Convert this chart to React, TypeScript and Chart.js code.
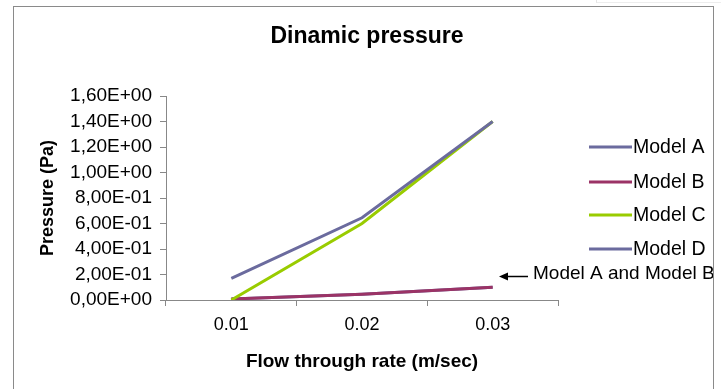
import React, { useEffect, useRef } from "react";
import { Chart, registerables } from "chart.js";

Chart.register(...registerables);

const categories = ["0.01", "0.02", "0.03"];
const modelA = [0.008, 0.045, 0.1];
const modelB = [0.008, 0.045, 0.1];
const modelC = [0.0, 0.6, 1.4];
const modelD = [0.17, 0.645, 1.4];
const seriesNames = ["Model A", "Model B", "Model C", "Model D"];
const seriesColors = ["#6b6b9e", "#9b3366", "#99cc00", "#6b6b9e"];
const chartTitle = "Dinamic pressure";
const xTitle = "Flow through rate (m/sec)";
const yTitle = "Pressure (Pa)";
const noteText = "Model A and Model B";

const FONT = "'Liberation Sans', Arial, sans-serif";

function fmtExp(v: number): string {
  const s = Number(v).toExponential(2);
  const [m, e] = s.split("e");
  const n = parseInt(e, 10);
  const sign = n < 0 ? "-" : "+";
  const abs = Math.abs(n).toString().padStart(2, "0");
  return m.replace(".", ",") + "E" + sign + abs;
}

const overlayPlugin = {
  id: "overlay",
  afterDraw(chart: any) {
    const ctx = chart.ctx as CanvasRenderingContext2D;
    ctx.save();
    ctx.fillStyle = "#000";
    ctx.font = `bold 23px ${FONT}`;
    ctx.textAlign = "center";
    ctx.textBaseline = "middle";
    ctx.fillText(chartTitle, 367, 37);
    const ys = [147, 182, 215, 249];
    ctx.font = `19.5px ${FONT}`;
    ctx.textAlign = "left";
    seriesNames.forEach((name, i) => {
      ctx.strokeStyle = seriesColors[i];
      ctx.lineWidth = 3;
      ctx.beginPath();
      ctx.moveTo(589, ys[i]);
      ctx.lineTo(632, ys[i]);
      ctx.stroke();
      ctx.fillStyle = "#000";
      ctx.fillText(name, 633, ys[i] + 1);
    });
    ctx.font = `19px ${FONT}`;
    ctx.fillText(noteText, 533, 274);
    ctx.strokeStyle = "#000";
    ctx.lineWidth = 1.5;
    ctx.beginPath();
    ctx.moveTo(528, 276.5);
    ctx.lineTo(505, 276.5);
    ctx.stroke();
    ctx.fillStyle = "#000";
    ctx.beginPath();
    ctx.moveTo(499, 276.5);
    ctx.lineTo(508, 272.5);
    ctx.lineTo(508, 280.5);
    ctx.closePath();
    ctx.fill();
    ctx.restore();
  },
};

export default function App() {
  const ref = useRef<HTMLCanvasElement>(null);
  useEffect(() => {
    if (!ref.current) return;
    const data = [modelA, modelB, modelC, modelD];
    const chart = new Chart(ref.current, {
      type: "line",
      data: {
        labels: categories,
        datasets: seriesNames.map((name, i) => ({
          label: name,
          data: data[i],
          borderColor: seriesColors[i],
          backgroundColor: seriesColors[i],
          borderWidth: 3,
          pointRadius: 0,
          tension: 0,
          fill: false,
          order: 4 - i,
        })),
      },
      options: {
        responsive: false,
        animation: false,
        devicePixelRatio: 1,
        layout: { padding: { left: 0, right: 163, top: 96, bottom: 0 } },
        plugins: {
          legend: { display: false },
          title: { display: false },
          tooltip: { enabled: false },
        },
        scales: {
          x: {
            type: "category",
            offset: true,
            afterFit: (s: any) => {
              s.height = 89;
            },
            grid: {
              display: true,
              drawOnChartArea: false,
              offset: true,
              tickLength: 6,
              color: "#888888",
            },
            border: { display: true, color: "#888888", width: 1 },
            ticks: {
              color: "#000",
              font: { family: FONT, size: 18 },
              padding: 8,
            },
            title: {
              display: true,
              text: xTitle,
              color: "#000",
              font: { family: FONT, size: 19, weight: "bold" },
              padding: { top: 0, bottom: 16 },
            },
          },
          y: {
            min: 0,
            max: 1.6,
            afterFit: (s: any) => {
              s.width = 166;
            },
            grid: {
              display: true,
              drawOnChartArea: false,
              tickLength: 6,
              color: "#888888",
            },
            border: { display: true, color: "#888888", width: 1 },
            ticks: {
              stepSize: 0.2,
              autoSkip: false,
              color: "#000",
              font: { family: FONT, size: 19 },
              padding: 8,
              callback: (v: any) => fmtExp(Number(v)),
            },
            title: {
              display: true,
              text: yTitle,
              color: "#000",
              font: { family: FONT, size: 18, weight: "bold" },
              padding: { top: 37, bottom: 0 },
            },
          },
        },
      },
      plugins: [overlayPlugin],
    } as any);
    return () => chart.destroy();
  }, []);
  return (
    <div style={{ position: "fixed", left: 0, top: 0, width: 721, height: 389, background: "#fff" }}>
      <div
        style={{
          position: "absolute",
          left: 596,
          top: 0,
          width: 125,
          height: 3,
          borderLeft: "1px solid #e4e4e4",
          borderBottom: "1px solid #ededed",
          boxSizing: "border-box",
        }}
      />
      <canvas
        ref={ref}
        width={721}
        height={389}
        style={{ position: "absolute", left: 0, top: 0, width: 721, height: 389 }}
      />
      <div
        style={{
          position: "absolute",
          left: 13,
          top: 6,
          width: 701,
          height: 400,
          border: "1px solid #8a8a8a",
          boxSizing: "border-box",
          pointerEvents: "none",
        }}
      />
    </div>
  );
}
